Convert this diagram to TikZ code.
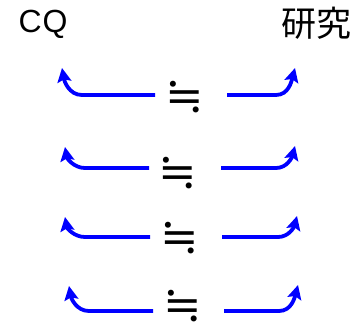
\documentclass[tikz,border=0pt]{standalone}
\usepackage{fontspec}
\setmainfont{Liberation Sans}
\newfontfamily\cjk{Noto Sans CJK JP}
\newfontfamily\symfont{DejaVu Serif}
\usetikzlibrary{arrows.meta}
\tikzset{
  lbl/.style={inner sep=0pt, font=\fontsize{32}{32}\selectfont},
  cjklbl/.style={inner sep=0pt, font=\cjk\fontsize{35}{35}\selectfont},
  approx/.style={inner sep=0pt, font=\symfont\fontsize{46}{46}\selectfont},
  arr/.style={draw={rgb,255:red,0;green,0;blue,255}, line width=3.8pt,
    -{Stealth[length=14pt,width=14pt,inset=2.5pt]}}
}
\begin{document}
\begin{tikzpicture}[x=1pt,y=-1pt]
\useasboundingbox (0,0) rectangle (352,325);
\node[lbl, anchor=base] (cq) at (43,32) {C\kern1ptQ};
\node[cjklbl] (ken) at (316,23) {研究};
% rows
\foreach \i/\y/\ex/\ey/\ls/\rs/\ltx/\lty/\rtx/\rty in {
  1/95/185/97/155/227/62/68/295/68,
  2/168/178/173/149/221/65/147/295/146,
  3/237/180/238/150/222/65/217/297/216,
  4/311/183/306/153/224/69/286/298/285}{
  \node[approx] (eq\i) at (\ex,\ey) {≒};
  \coordinate (ls\i) at (\ls,\y);
  \coordinate (lc\i) at (\ltx+20,\y);
  \coordinate (lt\i) at (\ltx,\lty);
  \coordinate (rs\i) at (\rs,\y);
  \coordinate (rc\i) at (\rtx-19,\y);
  \coordinate (rt\i) at (\rtx,\rty);
  \draw[arr] (ls\i) -- (lc\i) to[out=180,in=-80] (lt\i);
  \draw[arr] (rs\i) -- (rc\i) to[out=0,in=-105] (rt\i);
}
\end{tikzpicture}
\end{document}
